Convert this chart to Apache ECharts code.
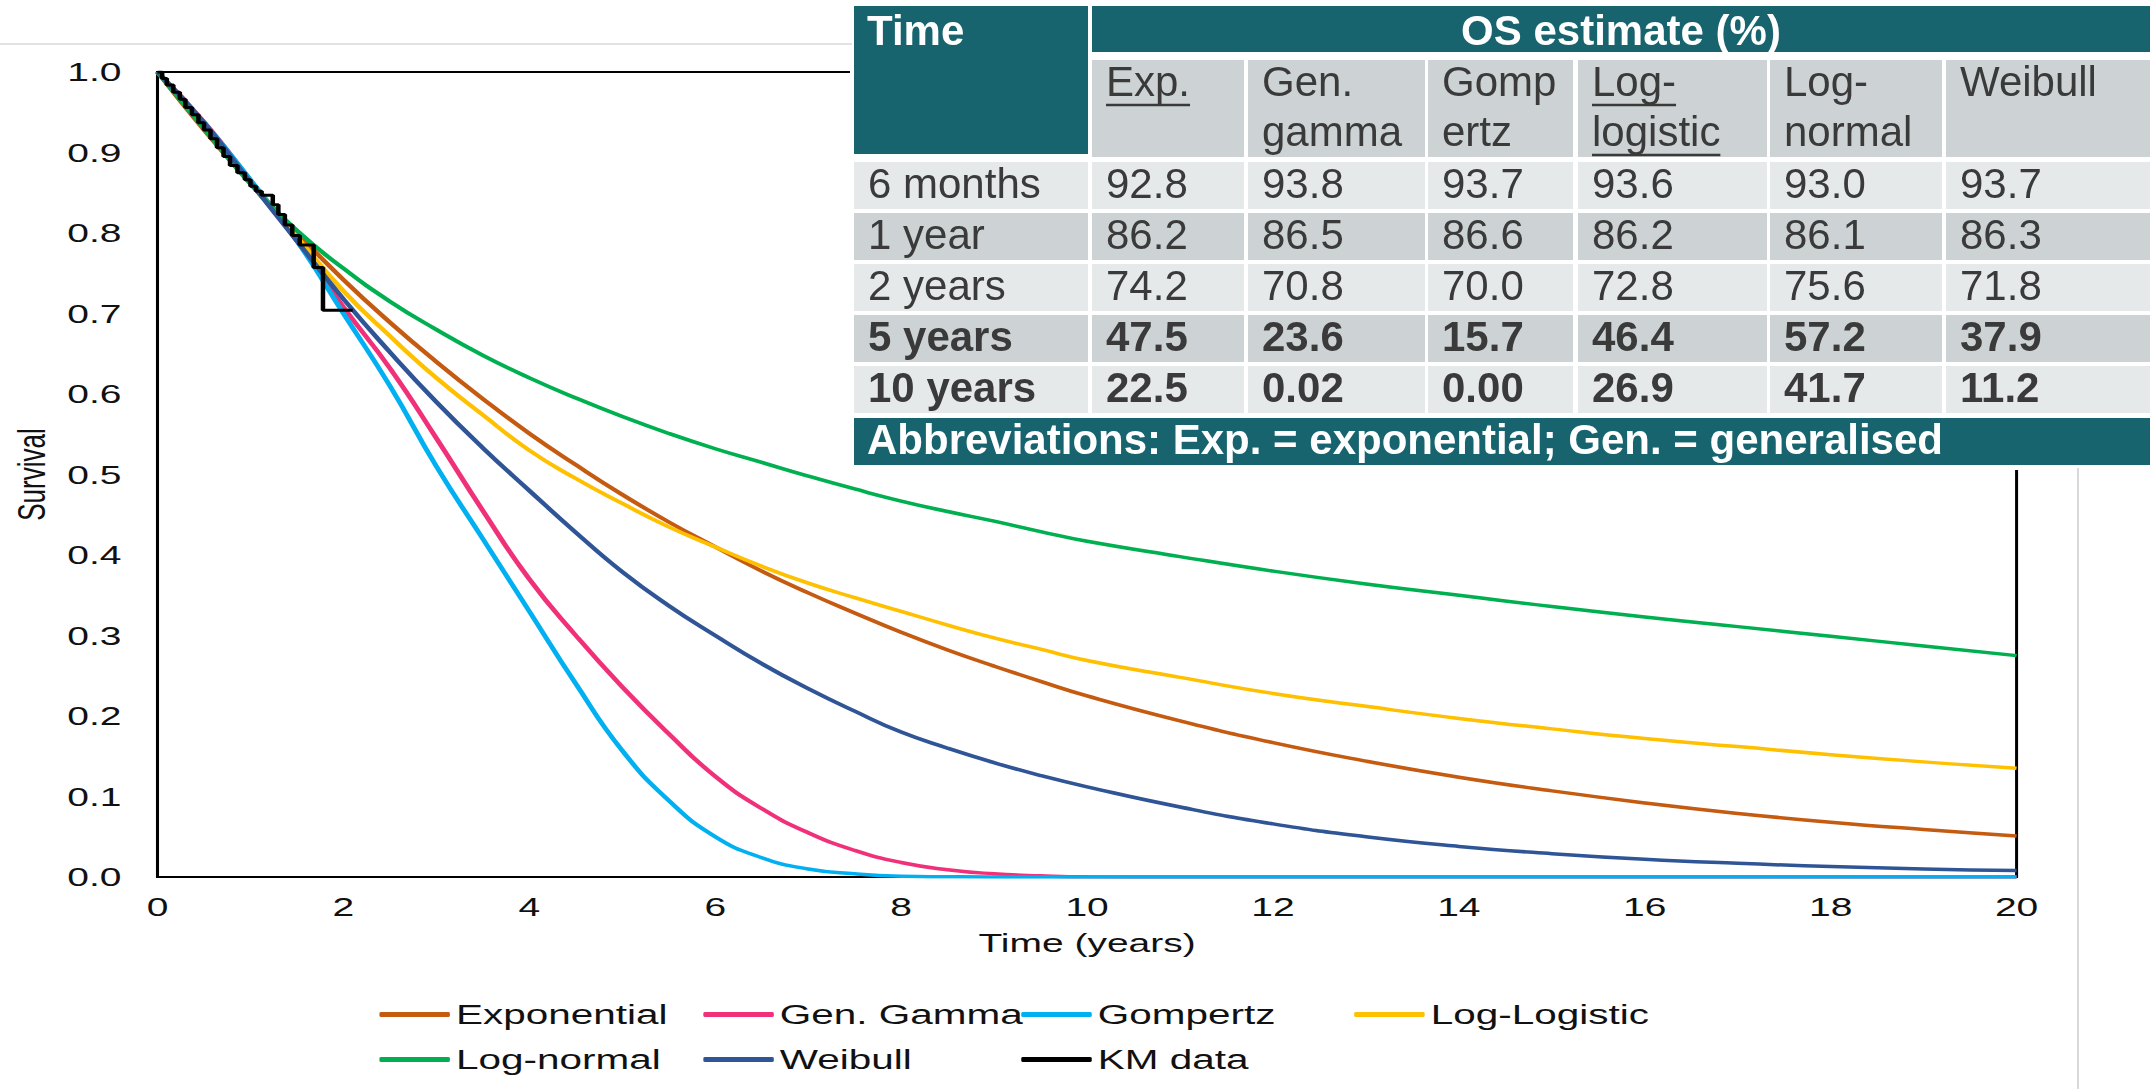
<!DOCTYPE html>
<html><head><meta charset="utf-8">
<script src="https://cdn.jsdelivr.net/npm/echarts@6.0.0/dist/echarts.min.js"></script>
<style>
html,body{margin:0;padding:0;width:2152px;height:1089px;overflow:hidden;background:#fff;}
#chart{position:absolute;left:0;top:0;width:1435px;height:1089px;transform:scaleX(1.49965);transform-origin:0 0;}
#table{position:absolute;left:0;top:0;width:2152px;height:1089px;}
</style></head><body>
<div id="chart"></div><div id="table"></div>
<script>
// ---------- data ----------
const fitTime   = [0,0.5,1,1.5,2,2.5,3,3.5,4,4.5,5,5.5,6,6.5,7,7.5,8,8.5,9,9.5,10,11,12,13,14,15,16,17,18,19,20];
const expVals   = [1,.928,.862,.800,.742,.689,.640,.594,.551,.512,.475,.441,.410,.380,.353,.328,.304,.282,.262,.243,.225,.194,.167,.144,.124,.107,.092,.079,.068,.059,.051];
const genGamVals= [1,.938,.865,.790,.708,.632,.545,.455,.370,.300,.236,.178,.125,.085,.055,.033,.018,.009,.004,.0015,.0002,0,0,0,0,0,0,0,0,0,0];
const gompVals  = [1,.937,.866,.790,.700,.610,.510,.420,.330,.240,.157,.095,.050,.024,.010,.004,.001,.0003,0,0,0,0,0,0,0,0,0,0,0,0,0];
const logLogVals= [1,.936,.862,.795,.728,.672,.620,.574,.530,.495,.464,.435,.410,.386,.365,.347,.330,.313,.297,.283,.269,.248,.228,.212,.197,.184,.172,.162,.152,.143,.135];
const logNormVals=[1,.930,.861,.803,.756,.715,.680,.648,.620,.595,.572,.551,.532,.515,.498,.482,.467,.454,.442,.429,.417,.398,.380,.364,.350,.336,.323,.311,.299,.287,.275];
const weibVals  = [1,.937,.863,.790,.718,.652,.590,.533,.480,.428,.379,.337,.300,.265,.234,.206,.180,.160,.142,.126,.112,.087,.066,.050,.038,.029,.022,.017,.013,.010,.008];
const kmTime = [0,0.05,0.10,0.17,0.24,0.30,0.37,0.44,0.50,0.57,0.64,0.71,0.78,0.86,0.94,1.00,1.06,1.12,1.24,1.30,1.37,1.45,1.53,1.68,1.78,2.10];
const kmSurv = [1.0,0.992,0.984,0.975,0.966,0.956,0.947,0.937,0.928,0.917,0.906,0.895,0.884,0.875,0.866,0.858,0.852,0.847,0.835,0.823,0.810,0.797,0.785,0.757,0.704,0.704];
const seriesNames = ['Exponential','Gen. Gamma','Gompertz','Log-Logistic','Log-normal','Weibull','KM data'];
const xTicks = [0,2,4,6,8,10,12,14,16,18,20];

// table data
const tableTitle = 'Time';
const tableGroup = 'OS estimate (%)';
const modelHeads = [['Exp.'],['Gen.','gamma'],['Gomp','ertz'],['Log-','logistic'],['Log-','normal'],['Weibull']];
const underlined = [true,false,false,true,false,false];
const timeLabels = ['6 months','1 year','2 years','5 years','10 years'];
const boldRows   = [false,false,false,true,true];
const osExp    = ['92.8','86.2','74.2','47.5','22.5'];
const osGenGam = ['93.8','86.5','70.8','23.6','0.02'];
const osGomp   = ['93.7','86.6','70.0','15.7','0.00'];
const osLogLog = ['93.6','86.2','72.8','46.4','26.9'];
const osLogNorm= ['93.0','86.1','75.6','57.2','41.7'];
const osWeib   = ['93.7','86.3','71.8','37.9','11.2'];
const abbrevText = 'Abbreviations: Exp. = exponential; Gen. = generalised';

// ---------- chart ----------
const FONT = '"Liberation Sans", Arial, Helvetica, sans-serif';
const colors = ['#c55a11','#f0317a','#00b0f0','#ffc000','#00b050','#2f5597','#000000'];
const fitVals = [expVals, genGamVals, gompVals, logLogVals, logNormVals, weibVals];

const series = fitVals.map((vals,k)=>({
  type:'line', name:seriesNames[k],
  data: fitTime.map((t,i)=>[t, vals[i]]),
  smooth:0.5, symbol:'none', showSymbol:false,
  lineStyle:{color:colors[k], width:3.5}, itemStyle:{color:colors[k]},
  z:2+k, silent:true
}));
series.push({
  type:'line', name:seriesNames[6],
  data: kmTime.map((t,i)=>[t, kmSurv[i]]),
  step:'end', symbol:'none', showSymbol:false,
  lineStyle:{color:'#000', width:3}, itemStyle:{color:'#000'}, z:10, silent:true
});

const legendPos = [[253,1001],[469,1001],[681,1001],[903,1001],[253,1046],[469,1046],[681,1046]];
const legends = seriesNames.map((n,i)=>({
  data:[n], left:legendPos[i][0], top:legendPos[i][1], orient:'horizontal',
  icon:'roundRect', itemWidth:47, itemHeight:5, padding:0, itemGap:0, selectedMode:false,
  textStyle:{fontSize:27, color:'#111', fontFamily:FONT, padding:[0,0,0,-1]}
}));

const chart = echarts.init(document.getElementById('chart'), null, {renderer:'svg'});
chart.setOption({
  animation:false,
  backgroundColor:'transparent',
  grid:{left:101.3, right:90.3, top:72, bottom:212, show:true, borderColor:'#000', borderWidth:2, containLabel:false},
  legend: legends,
  xAxis:{
    type:'value', min:0, max:20, interval:2,
    axisLine:{show:true, onZero:false, lineStyle:{color:'#000', width:2}},
    axisTick:{show:false}, splitLine:{show:false},
    axisLabel:{fontSize:26, color:'#111', margin:17, fontFamily:FONT,
      formatter:(v)=> xTicks.includes(v) ? String(v) : ''},
    name:'Time (years)', nameLocation:'middle', nameGap:53,
    nameTextStyle:{fontSize:26, color:'#111', fontFamily:FONT}
  },
  yAxis:{
    type:'value', min:0, max:1, interval:0.1,
    axisLine:{show:true, lineStyle:{color:'#000', width:2}},
    axisTick:{show:false}, splitLine:{show:false},
    axisLabel:{fontSize:26, color:'#111', margin:24, fontFamily:FONT, formatter:(v)=>v.toFixed(1)},
    name:'Survival', nameLocation:'middle', nameGap:70, nameRotate:90,
    nameTextStyle:{fontSize:26, color:'#111', fontFamily:FONT}
  },
  series: series
});

// ---------- table (not stretched) ----------
const TEAL = '#17636e', DARK = '#cdd3d4', LIGHT = '#e6e9ea', TXT = '#3a3a3a';
const colEdges = [[854,1088],[1092,1244],[1248,1425],[1428,1573],[1578,1767],[1770,1942],[1946,2150]];
const rowTop0 = 162, rowStep = 51, rowH = 47;
const osCols = [osExp, osGenGam, osGomp, osLogLog, osLogNorm, osWeib];
const mctx = document.createElement('canvas').getContext('2d');
function textW(t, size, bold){ mctx.font = (bold?'bold ':'') + size + 'px "Liberation Sans", Arial'; return mctx.measureText(t).width; }

const g = [];
g.push({type:'rect', shape:{x:850,y:0,width:1302,height:470}, style:{fill:'#fff'}});
g.push({type:'line', shape:{x1:0,y1:44,x2:852,y2:44}, style:{stroke:'#d9d9d9', lineWidth:1.5}});
g.push({type:'line', shape:{x1:2078,y1:468,x2:2078,y2:1089}, style:{stroke:'#d9d9d9', lineWidth:2}});
g.push({type:'rect', shape:{x:854,y:6,width:234,height:148}, style:{fill:TEAL}});
g.push({type:'rect', shape:{x:1092,y:6,width:1058,height:46}, style:{fill:TEAL}});
g.push({type:'text', style:{text:tableTitle, x:867, y:33, fontSize:42, fontWeight:'bold', fontFamily:FONT, fill:'#fff', textVerticalAlign:'middle', verticalAlign:'middle'}});
g.push({type:'text', style:{text:tableGroup, x:1621, y:33, fontSize:42, fontWeight:'bold', fontFamily:FONT, fill:'#fff', align:'center', textAlign:'center', verticalAlign:'middle', textVerticalAlign:'middle'}});
modelHeads.forEach((lines,c)=>{
  const [x0,x1] = colEdges[c+1];
  g.push({type:'rect', shape:{x:x0,y:60,width:x1-x0,height:97}, style:{fill:DARK}});
  lines.forEach((ln,j)=>{
    const yMid = 84 + j*50;
    g.push({type:'text', style:{text:ln, x:x0+14, y:yMid, fontSize:42, fontFamily:FONT, fill:TXT, verticalAlign:'middle', textVerticalAlign:'middle'}});
    if (underlined[c]) {
      const w = textW(ln, 42, false);
      g.push({type:'line', shape:{x1:x0+14,y1:yMid+21,x2:x0+14+w,y2:yMid+21}, style:{stroke:TXT, lineWidth:2.5}});
    }
  });
});
timeLabels.forEach((lab,r)=>{
  const y0 = rowTop0 + r*rowStep;
  const fill = (r%2===0) ? LIGHT : DARK;
  const fw = boldRows[r] ? 'bold' : 'normal';
  colEdges.forEach(([x0,x1],c)=>{
    g.push({type:'rect', shape:{x:x0,y:y0,width:x1-x0,height:rowH}, style:{fill:fill}});
    const t = c===0 ? lab : osCols[c-1][r];
    g.push({type:'text', style:{text:t, x:x0+14, y:y0+rowH/2+1, fontSize:42, fontWeight:fw, fontFamily:FONT, fill:TXT, verticalAlign:'middle', textVerticalAlign:'middle'}});
  });
});
g.push({type:'rect', shape:{x:854,y:418,width:1296,height:47}, style:{fill:TEAL}});
g.push({type:'text', style:{text:abbrevText, x:867, y:442, fontSize:42, fontWeight:'bold', fontFamily:FONT, fill:'#fff', verticalAlign:'middle', textVerticalAlign:'middle'}});

const tbl = echarts.init(document.getElementById('table'), null, {renderer:'canvas'});
tbl.setOption({animation:false, backgroundColor:'transparent', graphic:{elements:g}});
</script>
</body></html>
